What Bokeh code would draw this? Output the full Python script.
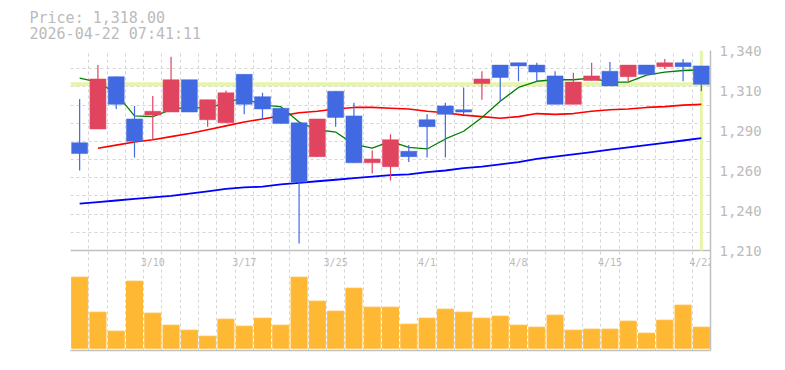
from bokeh.plotting import figure
from bokeh.models import (ColumnDataSource, Range1d, FixedTicker, Span, Title)
from bokeh.core.properties import value
from bokeh.embed import file_html
from bokeh.resources import INLINE

# ---------------- data ----------------
dates = ["3/4", "3/5", "3/6", "3/9", "3/10", "3/11", "3/12", "3/13", "3/16", "3/17",
         "3/18", "3/19", "3/23", "3/24", "3/25", "3/26", "3/27", "3/30", "3/31", "4/1",
         "4/2", "4/3", "4/6", "4/7", "4/8", "4/9", "4/10", "4/13", "4/14", "4/15",
         "4/16", "4/17", "4/20", "4/21", "4/22"]
tick_labels = ["3/10", "3/17", "3/25", "4/1", "4/8", "4/15", "4/22"]

open_ = [1280, 1289, 1323, 1295.5, 1298, 1300, 1321, 1295, 1293, 1324.5,
         1310, 1302.5, 1293, 1271, 1313.5, 1297.5, 1267, 1264.5, 1274.5, 1295,
         1304, 1301.5, 1318.5, 1330.5, 1332, 1330.5, 1323.5, 1305, 1320.5, 1326.5,
         1323, 1330.5, 1329.5, 1332, 1330]
close = [1273, 1321.5, 1305, 1281, 1300.5, 1321, 1300, 1308, 1312.5, 1305,
         1302, 1292.5, 1254.5, 1295.5, 1296.5, 1267, 1269.5, 1282, 1271, 1290.5,
         1298.5, 1300, 1321.5, 1322.5, 1330, 1326, 1305, 1319.5, 1323.5, 1317,
         1330.5, 1324.5, 1332, 1329.5, 1318]
high = [1308.5, 1330.5, 1323, 1304, 1310.5, 1336, 1321, 1308, 1314, 1324.5,
        1312.5, 1302.5, 1293, 1295.5, 1313.5, 1306, 1275, 1285.5, 1278.5, 1298.5,
        1306, 1316, 1326.5, 1330.5, 1332, 1332, 1326.5, 1325.5, 1332, 1332.5,
        1330.5, 1330.5, 1334.5, 1334.5, 1330]
low = [1262, 1289, 1302, 1270.5, 1282.5, 1300, 1300, 1290.5, 1293, 1298.5,
       1295.5, 1292.5, 1214.5, 1271, 1290.5, 1267, 1260, 1255.5, 1267.5, 1270.5,
       1270.5, 1298, 1308, 1307, 1320, 1319.5, 1305, 1305, 1320.5, 1317,
       1320, 1324.5, 1328, 1320, 1313.5]
volume = [710, 360, 170, 670, 350, 230, 180, 120, 290, 220,
          300, 230, 710, 470, 370, 600, 410, 410, 240, 300,
          390, 360, 300, 320, 230, 210, 330, 180, 190, 190,
          270, 150, 280, 430, 210]

ma_short = [1322, 1319.5, 1312, 1297.5, 1297, 1301.5, 1303.5, 1302, 1306.5, 1309,
            1304.5, 1303.5, 1293.5, 1288.5, 1287, 1279, 1276.5, 1281, 1277, 1276,
            1282.5, 1287.5, 1296.5, 1307, 1316, 1320, 1321, 1321, 1322, 1319.5,
            1319.5, 1324, 1326, 1327, 1327.5]
ma_mid = [float("nan"), 1276.5, 1278.5, 1280.5, 1282, 1284, 1286, 1288.5, 1291, 1293.5,
          1295.5, 1297.5, 1299.5, 1300.5, 1302, 1303, 1303, 1302.5, 1302, 1300.5,
          1299.5, 1298, 1297, 1296, 1297, 1299, 1298.5, 1299, 1300.5, 1301.5,
          1302, 1303, 1303.5, 1304.5, 1305]
ma_long = [1240.5, 1241.5, 1242.5, 1243.5, 1244.5, 1245.5, 1247, 1248.5, 1250, 1251,
           1251.5, 1253, 1254, 1255, 1256, 1257, 1258, 1259, 1259.5, 1261,
           1262, 1263.5, 1264.5, 1266, 1267.5, 1269.5, 1271, 1272.5, 1274, 1275.5,
           1277, 1278.5, 1280, 1281.5, 1283]

y_tick_values = [1210, 1236, 1262, 1288, 1314, 1340]
y_tick_labels = ["1,210", "1,240", "1,260", "1,290", "1,310", "1,340"]

last_price = 1318.00
price_text = "Price: 1,318.00"
time_text = "2026-04-22 07:41:11"

# ---------------- styling ----------------
UP = "#e0445f"
DOWN = "#4169e1"
VOL = "#ffb834"
TXT = "#bbbbbb"
FONT = "DejaVu Sans Mono"
PRICE_MIN, PRICE_MAX = 1210, 1340

n = len(dates)
xs = list(range(n))
colors = [UP if c >= o else DOWN for o, c in zip(open_, close)]
src = ColumnDataSource(dict(
    x=xs, open=open_, close=close, high=high, low=low,
    top=[max(o, c) for o, c in zip(open_, close)],
    bottom=[min(o, c) for o, c in zip(open_, close)],
    color=colors, volume=volume,
    ma_s=ma_short, ma_m=ma_mid, ma_l=ma_long,
))

px_per_unit = 200 / (PRICE_MAX - PRICE_MIN)
frame_h = 300
y_start = PRICE_MAX - frame_h / px_per_unit

p = figure(
    frame_width=640, frame_height=frame_h,
    x_range=Range1d(-0.5, n - 0.5),
    y_range=Range1d(y_start, PRICE_MAX),
    y_axis_location="right",
    output_backend="svg", toolbar_location=None, tools="",
    min_border_left=70, min_border_top=50, min_border_right=60, min_border_bottom=6,
    background_fill_color="white", border_fill_color="white",
)
p.outline_line_color = None
p.title.visible = False

# volume range: 10 units per pixel
vol_per_px = 10
p.extra_y_ranges = {"vol": Range1d(-2.3 * vol_per_px, -2.3 * vol_per_px + frame_h * vol_per_px)}

# grids
p.xgrid.ticker = FixedTicker(ticks=[i - 0.5 for i in range(n + 1)])
p.ygrid.ticker = FixedTicker(ticks=[PRICE_MAX - k * (PRICE_MAX - PRICE_MIN) / 11 for k in range(12)])
for g in (p.xgrid, p.ygrid):
    g.grid_line_color = "#d4d4d4"
    g.grid_line_dash = "3 3"
    g.grid_line_width = 1

# axes
p.xaxis.ticker = FixedTicker(ticks=[])
p.xaxis.axis_line_color = "#c0c0c0"
p.xaxis.axis_line_width = 1.5
p.xaxis.major_tick_line_color = None
p.xaxis.minor_tick_line_color = None
p.xaxis.major_label_text_font_size = "0px"

p.yaxis.ticker = FixedTicker(ticks=y_tick_values)
p.yaxis.major_label_overrides = dict(zip(y_tick_values, y_tick_labels))
p.yaxis.axis_line_color = "#c0c0c0"
p.yaxis.axis_line_width = 1.5
p.yaxis.major_tick_line_color = None
p.yaxis.minor_tick_line_color = None
p.yaxis.major_tick_out = 0
p.yaxis.major_label_standoff = 9
p.yaxis.major_label_text_font = FONT
p.yaxis.major_label_text_font_size = "14px"
p.yaxis.major_label_text_color = TXT

# price panel bottom line
p.add_layout(Span(location=PRICE_MIN, dimension="width", line_color="#c0c0c0",
                  line_width=1.5, level="underlay"))
# current price line
p.add_layout(Span(location=last_price, dimension="width", line_color="#e6f5a8",
                  line_width=4, level="underlay"))
p.segment(x0=[n - 1], y0=[PRICE_MIN], x1=[n - 1], y1=[PRICE_MAX],
          line_color="#e6f5a8", line_width=3)

# volume
p.vbar(x="x", width=0.875, top="volume", bottom=0, color=VOL, source=src,
       y_range_name="vol")

# moving averages
p.line("x", "ma_l", source=src, line_color="#0000ff", line_width=1.8)
p.line("x", "ma_m", source=src, line_color="#ff0000", line_width=1.6)
p.line("x", "ma_s", source=src, line_color="#008000", line_width=1.3)

# candles
p.segment(x0="x", y0="low", x1="x", y1="high", line_color="color", line_width=1.2, source=src)
p.vbar(x="x", width=0.875, top="top", bottom="bottom", fill_color="color",
       line_color="color", line_width=0.5, source=src)

# date labels
tick_pos = [dates.index(t) for t in tick_labels]
lab_src = ColumnDataSource(dict(x=tick_pos, y=[PRICE_MIN - 11.5 / px_per_unit] * len(tick_pos),
                                text=tick_labels))
p.text(x="x", y="y", text="text", source=lab_src, text_font=value(FONT),
       text_font_size="10px", text_color=TXT, text_align="center",
       text_baseline="middle")

# header text (two lines)
p.add_layout(Title(text=price_text + "\n" + time_text, align="left", offset=-41, standoff=14,
                   text_font=FONT, text_font_size="15px", text_font_style="normal",
                   text_line_height=0.9, text_color=TXT), "above")

open("out.html", "w").write(file_html(p, INLINE))
